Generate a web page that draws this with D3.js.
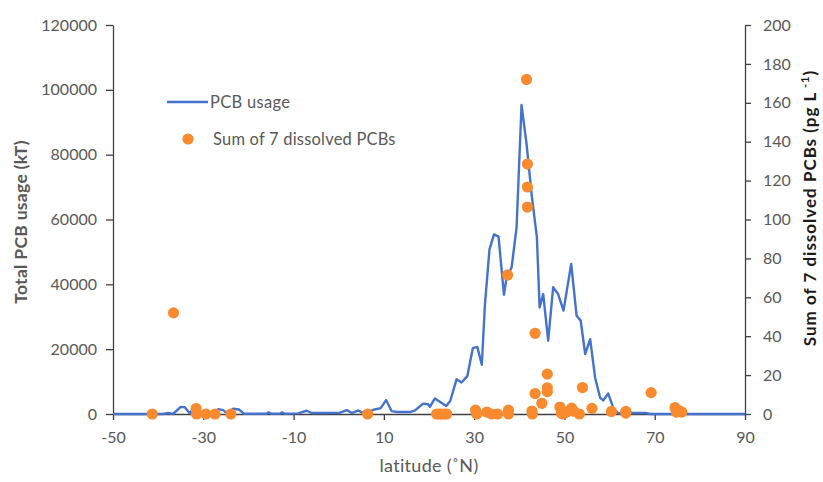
<!DOCTYPE html>
<html>
<head>
<meta charset="utf-8">
<script src="https://cdn.jsdelivr.net/npm/d3@7"></script>
<style>
  html, body { margin: 0; padding: 0; background: #fff; }
  svg { display: block; font-family: Lato, "Open Sans", sans-serif; }
</style>
</head>
<body>
<svg id="chart" width="823" height="482"></svg>
<script>
// ---- data ----
const usageLat = [-50, -39, -37.8, -36.7, -35, -34.1, -33, -32.3, -31.2, -27.8, -26.7, -25.6, -24.7, -23.4, -22.1, -21,
  -16, -15.6, -15, -13, -12.6, -12, -9, -7.1, -6, -3.8, 0.3, 1.8, 2.9, 4.35, 5.5, 7.7, 9.3, 10.5, 11.7, 13, 15.8,
  16.9, 18.7, 19.8, 20.2, 21.3, 22.4, 23.8, 24.7, 26.1, 27.2, 28.5, 29.7, 30.7, 31.7, 32.4, 33.4, 34.4, 35.4,
  36.6, 37.2, 38.3, 39.4, 40.5, 41.6, 42.8, 43.9, 44.5, 45.3, 46.4, 47.5, 48.6, 49.8, 51.5, 52.7, 53.6, 54.6,
  55.7, 56.8, 57.9, 58.6, 59.7, 60.8, 61.9, 63, 68, 69, 90];
const usageVal = [0, 0, 300, 0, 2200, 2100, 200, 1600, 200, 200, 1500, 1200, 200, 1600, 1400, 100,
  100, 500, 100, 100, 500, 100, 200, 1000, 300, 300, 400, 1200, 300, 1100, 200, 1300, 1800, 4300, 900, 600, 600,
  1100, 3200, 3000, 2200, 4800, 3800, 2500, 4000, 10700, 9700, 11700, 20300, 20700, 15200, 34000, 50800, 55400, 54700,
  36800, 42200, 45200, 57600, 95300, 83400, 66900, 54500, 32900, 37000, 22600, 39100, 37000, 31900, 46300, 30300, 28800, 18500,
  23100, 11200, 5000, 4200, 6300, 1950, 200, 300, 300, 0, 0];

const pcbLat = [-41.3, -36.6, -31.6, -31.5, -29.4, -27.4, -23.9, 6.4, 21.7, 22.3, 22.8, 23.4, 23.9,
  30.3, 30.6, 32.8, 33.9, 35.2, 37.4, 37.6, 37.6, 41.6, 41.8, 41.8, 41.8, 42.8, 42.9, 43.5, 43.5, 45,
  46.2, 46.2, 46.2, 49, 49.3, 49.6, 50.5, 51.6, 52, 53.3, 54, 56.1, 60.4, 63.6, 63.6, 69.2, 74.5, 74.8, 75.5, 76];
const pcbVal = [0, 52, 2.8, 0, 0, 0, 0, 0, 0, 0, 0, 0, 0,
  2, 0, 1, 0, 0, 71.5, 2, 0, 172, 128.5, 116.7, 106.4, 1.5, 0, 41.5, 10.5, 5.5,
  20.5, 13.5, 11.5, 3.6, 0.5, 0, 1, 3, 1.5, 0, 13.6, 2.9, 1.3, 1.3, 0.5, 11, 3.3, 1, 1.5, 1];

const xTicks = [-50, -30, -10, 10, 30, 50, 70, 90];
const yLeftTicks = [0, 20000, 40000, 60000, 80000, 100000, 120000];
const yRightTicks = [0, 20, 40, 60, 80, 100, 120, 140, 160, 180, 200];

const legendLabels = ["PCB usage", "Sum of 7 dissolved PCBs"];
const xTitle = "latitude (\u02DAN)";
const yLeftTitle = "Total PCB usage (kT)";

// ---- layout ----
const svg = d3.select("#chart");
const plotL = 113, plotR = 745, plotT = 25, plotB = 414;
const lineColor = "#4472CF";
const dotColor = "#F98A2E";
const textColor = "#595959";
const axisColor = "#404040";

const x = d3.scaleLinear().domain([-50, 90]).range([plotL, plotR]);
const yL = d3.scaleLinear().domain([0, 120000]).range([plotB, plotT]);
const yR = d3.scaleLinear().domain([0, 200]).range([plotB, plotT]);

function styleAxis(g) {
  g.selectAll(".domain").attr("stroke", axisColor).attr("stroke-width", 1.3);
  g.selectAll(".tick line").attr("stroke", axisColor).attr("stroke-width", 1.3);
  g.selectAll(".tick text").attr("fill", textColor).style("font-size", "16px").style("font-family", "Lato, sans-serif");
}
const fmt = d => d3.format("d")(d).replace("\u2212", "-");

// x axis
const gx = svg.append("g").attr("transform", `translate(0,${plotB})`)
  .call(d3.axisBottom(x).tickValues(xTicks).tickSizeInner(6).tickSizeOuter(0).tickPadding(12).tickFormat(fmt));
styleAxis(gx);

// left axis
const gyl = svg.append("g").attr("transform", `translate(${plotL},0)`)
  .call(d3.axisLeft(yL).tickValues(yLeftTicks).tickSizeInner(7).tickSizeOuter(0).tickPadding(9).tickFormat(fmt));
styleAxis(gyl);

// right axis
const gyr = svg.append("g").attr("transform", `translate(${plotR},0)`)
  .call(d3.axisRight(yR).tickValues(yRightTicks).tickSizeInner(6).tickSizeOuter(0).tickPadding(12).tickFormat(fmt));
styleAxis(gyr);

// line
const line = d3.line().x((d, i) => x(usageLat[i])).y((d, i) => yL(usageVal[i])).curve(d3.curveLinear);
svg.append("path").datum(usageVal)
  .attr("d", line)
  .attr("fill", "none")
  .attr("stroke", lineColor)
  .attr("stroke-width", 2.4)
  .attr("stroke-linejoin", "round");

// dots
svg.append("g").selectAll("circle").data(pcbVal).join("circle")
  .attr("cx", (d, i) => x(pcbLat[i]))
  .attr("cy", d => yR(d))
  .attr("r", 5.6)
  .attr("fill", dotColor);

// legend
svg.append("line").attr("x1", 167).attr("x2", 208).attr("y1", 102).attr("y2", 102)
  .attr("stroke", lineColor).attr("stroke-width", 2.4);
svg.append("text").attr("x", 210).attr("y", 108).attr("fill", textColor)
  .style("font-size", "16.5px").style("letter-spacing", "0.3px").text(legendLabels[0]);
svg.append("circle").attr("cx", 188).attr("cy", 139).attr("r", 5.6).attr("fill", dotColor);
svg.append("text").attr("x", 213).attr("y", 145).attr("fill", textColor)
  .style("font-size", "16.5px").style("letter-spacing", "0.2px").text(legendLabels[1]);

// axis titles
svg.append("text").attr("x", 429).attr("y", 472).attr("text-anchor", "middle")
  .attr("fill", textColor).style("font-size", "18px").style("letter-spacing", "0.3px").text(xTitle);

svg.append("text").attr("transform", "translate(27,222) rotate(-90)").attr("text-anchor", "middle")
  .attr("fill", textColor).style("font-size", "17.5px").style("font-weight", "bold").style("letter-spacing", "0.3px").text(yLeftTitle);

const rt = svg.append("text").attr("transform", "translate(816,208) rotate(-90)").attr("text-anchor", "middle")
  .attr("fill", "#1a1a1a").style("font-size", "17px").style("font-weight", "bold").style("letter-spacing", "1px");
rt.append("tspan").text("Sum of 7 dissolved PCBs  (pg L");
rt.append("tspan").attr("dy", -7).style("font-size", "11px").text(" -1");
rt.append("tspan").attr("dy", 7).text(")");
</script>
</body>
</html>
